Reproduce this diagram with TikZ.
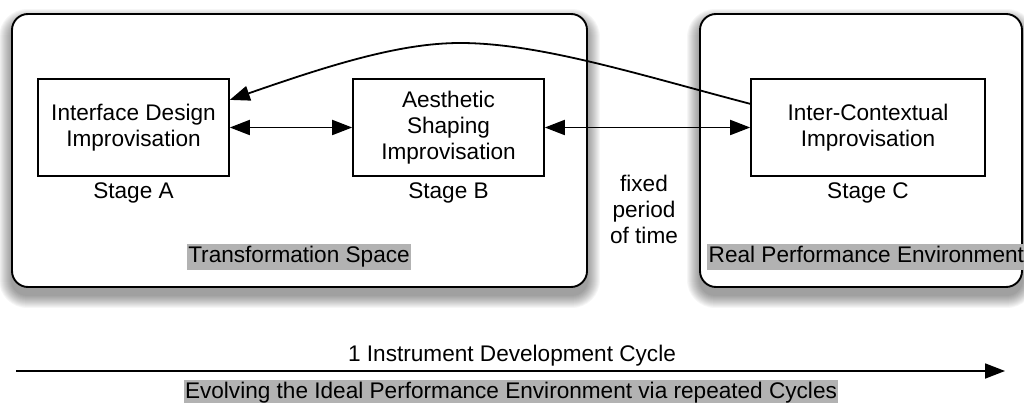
\documentclass[tikz,border=0pt]{standalone}
\usepackage{fontspec}
\setmainfont{Liberation Sans}
\usetikzlibrary{arrows.meta,calc,backgrounds}
\begin{document}
\begin{tikzpicture}[x=1pt,y=-1pt,
  every node/.style={font=\fontsize{22.6}{26}\selectfont},
  panel/.style={draw=black, line width=1.9pt, fill=white, rounded corners=16pt, inner sep=0pt},
  stagebox/.style={draw=black, line width=1.6pt, align=center, minimum height=97pt, inner sep=0pt},
  hl/.style={fill=black!30, inner xsep=1.5pt, inner ysep=2.5pt, text height=16pt, text depth=5pt},
  link/.style={line width=1.8pt},
  >={Triangle[length=20pt,width=15pt]}
]
\useasboundingbox (0,0) rectangle (1024,403);

% the two rounded panels
\node[panel, minimum width=575pt, minimum height=273pt] (ts) at (299.5,150.5) {};
\node[panel, minimum width=322pt, minimum height=273pt] (rp) at (861,150.5) {};

% soft drop shadows under the panels
\begin{scope}[on background layer]
\foreach \p in {ts,rp}{
  \foreach \e in {0,...,12}{
    \fill[black, opacity=0.035, rounded corners=16pt+\e pt]
      ($(\p.north west)+(-\e,8-\e)$) rectangle ($(\p.south east)+(\e,8+\e)$);
  }
}
\end{scope}

% stages
\node[stagebox, minimum width=191pt] (A) at (133.5,127.5) {Interface Design\\Improvisation};
\node[stagebox, minimum width=191pt] (B) at (448.5,127.5) {Aesthetic\\Shaping\\Improvisation};
\node[stagebox, minimum width=234pt] (C) at (868,127.5) {Inter-Contextual\\Improvisation};

\node[anchor=base] (la) at (133.5,199) {Stage A};
\node[anchor=base] (lb) at (448.5,199) {Stage B};
\node[anchor=base] (lc) at (868,199) {Stage C};

\node[align=center] (fp) at (644,209) {fixed\\period\\of time};

% panel captions
\node[hl, anchor=base] (tsl) at (299,262) {Transformation Space};
\node[hl, anchor=base west] (rpl) at (707,262) {Real Performance Environment};

% connectors between stages
\draw[link, <->] (A) -- (B);
\draw[link, <->] (B) -- (C);
\coordinate (cfrom) at ($(C.north west)!0.26!(C.south west)$);
\coordinate (ato) at ($(A.north east)!0.22!(A.south east)$);
\draw[link, ->] (cfrom) .. controls (640,75) and (540,43) .. (460,43)
  .. controls (400,43) and (330,65) .. (ato);

% development cycle axis
\coordinate (ax0) at (16,371);
\coordinate (ax1) at (1005,371);
\draw[link, ->] (ax0) -- (ax1);
\node[anchor=base] (cyc) at (512,361) {1 Instrument Development Cycle};
\node[hl, anchor=base] (evo) at (511,398) {Evolving the Ideal Performance Environment via repeated Cycles};
\end{tikzpicture}
\end{document}
